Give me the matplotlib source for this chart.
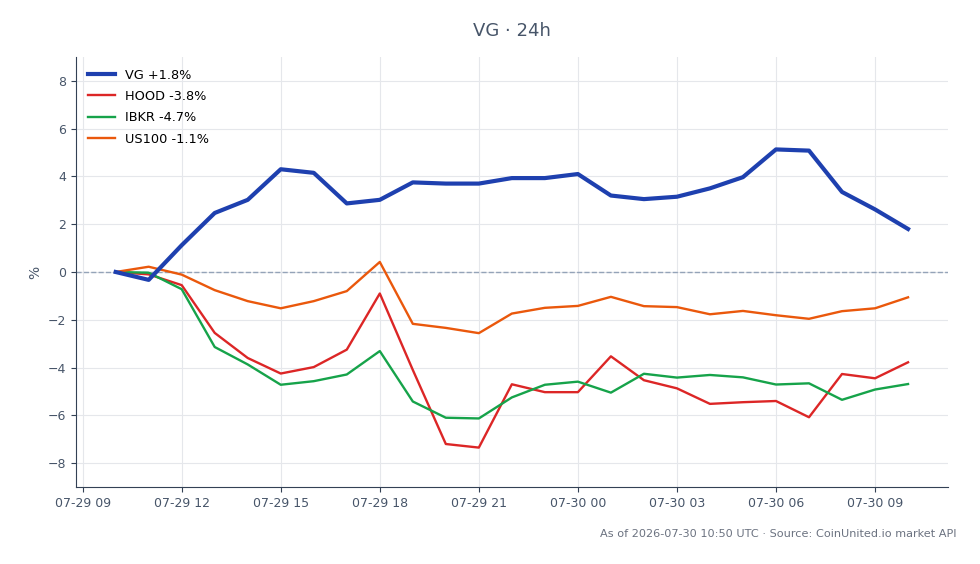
import numpy as np
import pandas as pd
import matplotlib.pyplot as plt
import matplotlib.dates as mdates

# hourly points, 07-29 10:00 -> 07-30 10:00
times = pd.date_range('2026-07-29 10:00', '2026-07-30 10:00', freq='h')

vg = [0.0, -0.33, 1.12, 2.47, 3.02, 4.3, 4.15, 2.87, 3.02, 3.75, 3.7, 3.7, 3.93,
      3.93, 4.1, 3.2, 3.05, 3.15, 3.5, 3.97, 5.13, 5.08, 3.35, 2.62, 1.8]
hood = [0.0, -0.1, -0.55, -2.55, -3.6, -4.25, -3.98, -3.25, -0.9, -4.1, -7.2, -7.35, -4.7,
        -5.03, -5.03, -3.53, -4.53, -4.87, -5.52, -5.45, -5.4, -6.08, -4.27, -4.45, -3.78]
ibkr = [0.0, -0.03, -0.72, -3.14, -3.87, -4.72, -4.57, -4.29, -3.31, -5.42, -6.1, -6.13, -5.25,
        -4.72, -4.59, -5.05, -4.26, -4.42, -4.31, -4.41, -4.71, -4.66, -5.35, -4.92, -4.69]
us100 = [0.0, 0.22, -0.11, -0.76, -1.22, -1.52, -1.22, -0.8, 0.42, -2.17, -2.34, -2.56, -1.74,
         -1.5, -1.42, -1.04, -1.43, -1.47, -1.77, -1.63, -1.81, -1.96, -1.64, -1.52, -1.06]

labels = ['VG +1.8%', 'HOOD -3.8%', 'IBKR -4.7%', 'US100 -1.1%']

fig = plt.figure(figsize=(9.8, 5.64), dpi=100)
ax = fig.add_axes([0.0776, 0.1365, 0.8894, 0.7625])

ax.plot(times, vg, color='#1e40af', lw=3, label=labels[0], zorder=5)
ax.plot(times, hood, color='#dc2626', lw=1.7, label=labels[1])
ax.plot(times, ibkr, color='#16a34a', lw=1.7, label=labels[2])
ax.plot(times, us100, color='#ea580c', lw=1.7, label=labels[3])
ax.axhline(0, color='#94a3b8', lw=1, ls='--', zorder=1)

ax.set_ylim(-9, 9)
ax.set_yticks([-8, -6, -4, -2, 0, 2, 4, 6, 8])
ax.xaxis.set_major_locator(mdates.HourLocator(byhour=range(0, 24, 3)))
ax.xaxis.set_major_formatter(mdates.DateFormatter('%m-%d %H'))

ax.grid(True, color='#e5e7eb', lw=0.8)
ax.set_axisbelow(True)
for s in ['top', 'right']:
    ax.spines[s].set_visible(False)
for s in ['left', 'bottom']:
    ax.spines[s].set_color('#334155')
ax.tick_params(colors='#334155', labelcolor='#475569', labelsize=9)
ax.set_ylabel('%', color='#475569', fontsize=10)

ax.legend(loc='upper left', frameon=False, fontsize=9.3, handlelength=2.1,
          labelspacing=0.65, borderaxespad=0.5)

fig.text(0.522, 0.945, 'VG · 24h', ha='center', va='center', fontsize=13, color='#475569')
fig.text(0.976, 0.053, 'As of 2026-07-30 10:50 UTC · Source: CoinUnited.io market API',
         ha='right', va='center', fontsize=8.1, color='#6b7280')

fig.savefig('out.png', dpi=100)
